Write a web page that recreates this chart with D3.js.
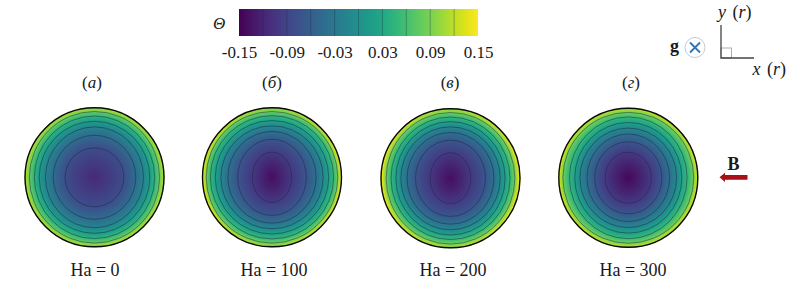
<!DOCTYPE html>
<html>
<head>
<meta charset="utf-8">
<script src="https://cdn.jsdelivr.net/npm/d3@7"></script>
<style>
html, body { margin: 0; padding: 0; background: #fff; }
svg { display: block; }
text { font-family: "Liberation Serif", serif; fill: #1a1a1a; }
</style>
</head>
<body>
<div id="chart"></div>
<script>
const WIDTH = 789, HEIGHT = 295;

// colorbar
const barTicks = [-0.15, -0.09, -0.03, 0.03, 0.09, 0.15];
const barLines = [-0.12, -0.09, -0.06, -0.03, 0, 0.03, 0.06, 0.09, 0.12];

// panels
const panelLetters = ["а", "б", "в", "г"];
const haLabels = ["Ha = 0", "Ha = 100", "Ha = 200", "Ha = 300"];

// contour levels and their semi axes, in units of r
const levelsA = [-0.08, -0.045, -0.015, 0.015, 0.045, 0.08];
const levelsRest = [-0.10, -0.07, -0.04, -0.01, 0.02, 0.05, 0.085];
const rxA = [0.42, 0.59, 0.70, 0.79, 0.86, 0.93];
const ryA = [0.42, 0.60, 0.72, 0.80, 0.875, 0.94];
const rxB = [0.28, 0.49, 0.63, 0.73, 0.81, 0.88, 0.94];
const ryB = [0.36, 0.545, 0.655, 0.735, 0.81, 0.88, 0.94];
const rxC = [0.29, 0.50, 0.62, 0.71, 0.78, 0.85, 0.92];
const ryC = [0.365, 0.545, 0.655, 0.735, 0.81, 0.875, 0.94];
const rxD = [0.33, 0.48, 0.59, 0.69, 0.765, 0.84, 0.935];
const ryD = [0.365, 0.515, 0.625, 0.71, 0.79, 0.87, 0.935];
// theta at the centre, at the top of the wall, at the side of the wall
const centreTheta = [-0.115, -0.14, -0.14, -0.145];
const wallTop = [0.105, 0.095, 0.10, 0.11];
const wallSide = [0.11, 0.135, 0.14, 0.125];

const panelX = [94.5, 272, 450.5, 628.3];
const panelY = [177.3, 177.3, 178.3, 177.8];
const panelLabelX = [92, 272, 450, 631];
const haX = [95, 274, 453, 633];
const R = 70;

const svg = d3.select("#chart").append("svg")
    .attr("width", WIDTH)
    .attr("height", HEIGHT);
const defs = svg.append("defs");

const color = d3.scaleSequential(d3.interpolateViridis).domain([-0.15, 0.15]);

// colorbar
const barScale = d3.scaleLinear().domain([-0.15, 0.15]).range([239, 478]);
const barGrad = defs.append("linearGradient").attr("id", "bar-grad");
d3.range(0, 1.001, 0.05).forEach(t => {
    barGrad.append("stop").attr("offset", t).attr("stop-color", d3.interpolateViridis(t));
});
svg.append("rect")
    .attr("x", barScale(-0.15)).attr("y", 9)
    .attr("width", barScale(0.15) - barScale(-0.15)).attr("height", 27)
    .attr("fill", "url(#bar-grad)");
svg.selectAll("line.bar-line").data(barLines).enter().append("line")
    .attr("class", "bar-line")
    .attr("x1", d => barScale(d)).attr("x2", d => barScale(d))
    .attr("y1", 9).attr("y2", 36)
    .attr("stroke", "#1b2b45").attr("stroke-opacity", 0.5).attr("stroke-width", 0.7);
const barAxis = svg.append("g")
    .attr("transform", "translate(0,40)")
    .call(d3.axisBottom(barScale).tickValues(barTicks).tickSize(0).tickFormat(d => d.toFixed(2)));
barAxis.select(".domain").remove();
barAxis.selectAll("text")
    .attr("y", 6).attr("dy", "0.71em")
    .style("font-size", "17px")
    .style("font-family", "'Liberation Serif', serif")
    .attr("fill", "#1a1a1a");
svg.append("text")
    .attr("x", 213).attr("y", 29)
    .style("font-size", "17px").style("font-style", "italic")
    .text("Θ");

// one disk
function DrawDisk(i, levels, rx, ry) {
    const x = d3.scaleLinear().domain([-1, 1]).range([panelX[i] - R, panelX[i] + R]);
    const y = d3.scaleLinear().domain([-1, 1]).range([panelY[i] - R, panelY[i] + R]);
    const g = svg.append("g");
    const rw = x(1) - x(0), rh = y(1) - y(0);
    const cx = x(0), cy = y(0);
    const last = levels.length - 1;

    const wall = defs.append("linearGradient").attr("id", `wall-${i}`);
    [[0, wallSide[i]], [0.5, wallTop[i]], [1, wallSide[i]]].forEach(s => {
        wall.append("stop").attr("offset", s[0]).attr("stop-color", color(s[1]));
    });
    g.append("circle")
        .attr("cx", cx).attr("cy", cy).attr("r", rw)
        .attr("fill", `url(#wall-${i})`);

    // outer band starts at the last contour colour and fades into the wall colour
    const fade = defs.append("radialGradient").attr("id", `fade-${i}`);
    fade.append("stop").attr("offset", (rx[last] + ry[last]) / 2)
        .attr("stop-color", color(levels[last])).attr("stop-opacity", 0.8);
    fade.append("stop").attr("offset", 0.98)
        .attr("stop-color", color(levels[last])).attr("stop-opacity", 0);
    g.append("circle")
        .attr("cx", cx).attr("cy", cy).attr("r", rw)
        .attr("fill", `url(#fade-${i})`);

    d3.range(last, -1, -1).forEach(k => {
        const grad = defs.append("radialGradient").attr("id", `band-${i}-${k}`);
        if (k === 0) {
            grad.append("stop").attr("offset", 0).attr("stop-color", color(centreTheta[i]));
        } else {
            const inner = (rx[k - 1] + ry[k - 1]) / (rx[k] + ry[k]);
            grad.append("stop").attr("offset", inner).attr("stop-color", color(levels[k - 1]));
        }
        grad.append("stop").attr("offset", 1).attr("stop-color", color(levels[k]));
        g.append("ellipse")
            .attr("cx", cx).attr("cy", cy)
            .attr("rx", rx[k] * rw).attr("ry", ry[k] * rh)
            .attr("fill", `url(#band-${i}-${k})`)
            .attr("stroke", "#16263f").attr("stroke-opacity", 0.7).attr("stroke-width", 0.7);
    });

    g.append("circle")
        .attr("cx", cx).attr("cy", cy).attr("r", rw - 0.5)
        .attr("fill", "none").attr("stroke", "#0a0a0a").attr("stroke-width", 1.4);

    const label = svg.append("text")
        .attr("x", panelLabelX[i]).attr("y", 88)
        .attr("text-anchor", "middle")
        .style("font-size", "17px");
    label.append("tspan").text("(");
    label.append("tspan").style("font-style", "italic").text(panelLetters[i]);
    label.append("tspan").text(")");

    svg.append("text")
        .attr("x", haX[i]).attr("y", 276)
        .attr("text-anchor", "middle")
        .style("font-size", "18px")
        .text(haLabels[i]);
}
DrawDisk(0, levelsA, rxA, ryA);
DrawDisk(1, levelsRest, rxB, ryB);
DrawDisk(2, levelsRest, rxC, ryC);
DrawDisk(3, levelsRest, rxD, ryD);

// g symbol and axes sketch
svg.append("text")
    .attr("x", 670).attr("y", 52)
    .style("font-size", "18px").style("font-weight", "bold")
    .text("g");
svg.append("circle")
    .attr("cx", 695).attr("cy", 47.5).attr("r", 10)
    .attr("fill", "#fff").attr("stroke", "#b9cfdf").attr("stroke-width", 1);
svg.append("path")
    .attr("d", "M690,42.5L700,52.5M700,42.5L690,52.5")
    .attr("stroke", "#2f74b5").attr("stroke-width", 1.8).attr("fill", "none");
svg.append("rect")
    .attr("x", 721).attr("y", 48).attr("width", 10.5).attr("height", 10)
    .attr("fill", "none").attr("stroke", "#9a9a9a").attr("stroke-width", 0.8);
svg.append("path")
    .attr("d", "M721,25V58H754")
    .attr("fill", "none").attr("stroke", "#444").attr("stroke-width", 1.3);
[["y", 718, 18], ["x", 752.5, 75]].forEach(a => {
    const t = svg.append("text")
        .attr("x", a[1]).attr("y", a[2])
        .style("font-size", "18px").style("word-spacing", "2px");
    t.append("tspan").style("font-style", "italic").text(a[0]);
    t.append("tspan").text(" (");
    t.append("tspan").style("font-style", "italic").text("r");
    t.append("tspan").text(")");
});

// B arrow
svg.append("text")
    .attr("x", 727.5).attr("y", 169.5)
    .style("font-size", "18px").style("font-weight", "bold")
    .text("B");
svg.append("path")
    .attr("d", "M719.5,177.3L725,172.8V175H747.5V179.8H725V182Z")
    .attr("fill", "#a90f16");
</script>
</body>
</html>
